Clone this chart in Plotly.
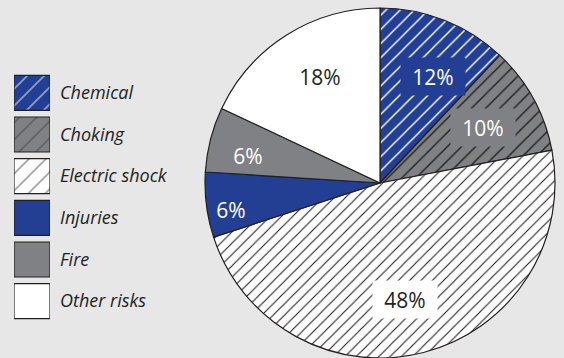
import math
import plotly.graph_objects as go

categories = ["Chemical", "Choking", "Electric shock", "Injuries", "Fire", "Other risks"]
shares = [12, 10, 48, 6, 6, 18]
share_labels = ["12%", "10%", "48%", "6%", "6%", "18%"]

BLUE = "#233f94"
GREY = "#808184"
WHITE = "#ffffff"
INK = "#231f20"
BG = "#e7e7e8"

fills = [BLUE, GREY, WHITE, BLUE, GREY, WHITE]
hatch = ["/", "/", "/", "", "", ""]
hatch_ink = [WHITE, INK, INK, INK, INK, INK]
label_ink = [WHITE, WHITE, INK, WHITE, WHITE, INK]
# where each percentage sits: fraction of radius, degrees nudged off the slice middle
label_radius = [0.68, 0.67, 0.68, 0.865, 0.77, 0.70]
label_nudge = [5.0, 0.7, 2.2, -2.8, -2.8, 2.9]

W, H = 564, 358
TOP = 8
PLOT_H = H - TOP
R = PLOT_H / 2
CX = 380

fig = go.Figure()

fig.add_trace(
    go.Pie(
        values=shares,
        labels=categories,
        sort=False,
        direction="clockwise",
        rotation=0,
        textinfo="none",
        hoverinfo="label+percent",
        showlegend=False,
        domain=dict(x=[(CX - R) / W, (CX + R) / W], y=[0, 1]),
        marker=dict(
            colors=fills,
            line=dict(color=INK, width=1.2),
            pattern=dict(
                shape=hatch,
                fgcolor=hatch_ink,
                bgcolor=fills,
                size=[10, 10, 8, 8, 8, 8],
                solidity=0.14,
            ),
        ),
    )
)

# legend drawn as patterned swatches with names on the right
fig.add_trace(
    go.Bar(
        y=categories,
        x=[1] * len(categories),
        orientation="h",
        width=0.84,
        showlegend=False,
        hoverinfo="skip",
        marker=dict(
            color=fills,
            line=dict(color=INK, width=1.2),
            pattern=dict(
                shape=hatch,
                fgcolor=hatch_ink,
                bgcolor=fills,
                size=12,
                solidity=0.14,
            ),
        ),
    )
)

# percentage labels; hatched slices get a plain box behind the text
total = sum(shares)
start = 0.0
for val, txt, col, fill, pat, f, nudge in zip(
    shares, share_labels, label_ink, fills, hatch, label_radius, label_nudge
):
    mid = (start + val / 2) / total * 2 * math.pi + math.radians(nudge)
    start += val
    px = CX + R * f * math.sin(mid)
    py = R + R * f * math.cos(mid)
    fig.add_annotation(
        x=px / W,
        y=py / PLOT_H,
        xref="paper",
        yref="paper",
        xanchor="center",
        yanchor="middle",
        text=txt,
        showarrow=False,
        font=dict(family="Open Sans, sans-serif", size=21, color=col),
        bgcolor=fill if pat else "rgba(0,0,0,0)",
        width=52,
        height=25,
        borderpad=6,
    )

fig.update_layout(
    width=W,
    height=H,
    paper_bgcolor=BG,
    plot_bgcolor=BG,
    margin=dict(l=0, r=0, t=TOP, b=0),
    xaxis=dict(domain=[14 / W, 50 / W], range=[0, 1], visible=False, fixedrange=True),
    yaxis=dict(
        domain=[(H - 322) / PLOT_H, (H - 72) / PLOT_H],
        range=[5.5, -0.5],
        type="category",
        side="right",
        showgrid=False,
        zeroline=False,
        showline=False,
        ticks="",
        ticklabelstandoff=9,
        tickfont=dict(family="Open Sans, sans-serif", size=18, color=INK, style="italic"),
        fixedrange=True,
    ),
)

fig.write_html(
    "out.html",
    config={"displayModeBar": False},
    post_script="document.body.style.margin='0';document.body.style.background='%s';" % BG,
)
